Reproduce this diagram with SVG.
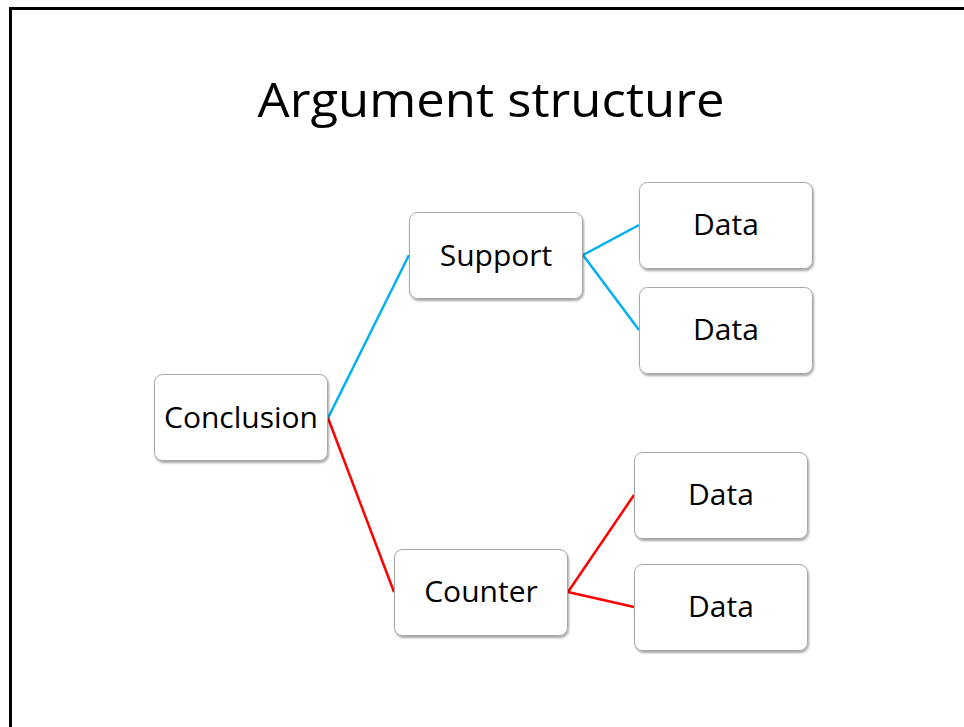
<svg xmlns="http://www.w3.org/2000/svg" width="964" height="727" viewBox="0 0 964 727">
<style>
.box{fill:#fff;stroke:#a6a6a6;stroke-width:1;filter:url(#sh)}
.lbl{font-family:"Open Sans","Liberation Sans",sans-serif;font-size:30px;fill:#000;text-anchor:middle}
.blue{stroke:#00b0f0;stroke-width:2.5;fill:none}
.red{stroke:#ff0000;stroke-width:2.5;fill:none}
</style>
<defs>
<filter id="sh" x="-10%" y="-10%" width="130%" height="140%">
<feDropShadow dx="1" dy="2" stdDeviation="1.2" flood-color="#000" flood-opacity="0.35"/>
</filter>
</defs>
<rect width="964" height="727" fill="#fff"/>
<path d="M10.5 727 V8.5 H964" fill="none" stroke="#000" stroke-width="3"/>
<text x="491" y="117" font-family="'Open Sans','Liberation Sans',sans-serif" font-size="47" text-anchor="middle" textLength="467" lengthAdjust="spacingAndGlyphs">Argument structure</text>
<g id="connectors">
<line class="blue" x1="328" y1="418" x2="409" y2="255"/>
<line class="blue" x1="583" y1="255" x2="639" y2="225"/>
<line class="blue" x1="583" y1="255" x2="639" y2="330"/>
<line class="red" x1="328" y1="418" x2="394" y2="592"/>
<line class="red" x1="568" y1="592" x2="634" y2="495"/>
<line class="red" x1="568" y1="592" x2="634" y2="607"/>
</g>
<g id="conclusion"><rect class="box" x="154.5" y="374.5" width="173" height="86" rx="8"/><text class="lbl" x="241" y="428">Conclusion</text></g>
<g id="support"><rect class="box" x="409.5" y="212.5" width="173" height="86" rx="8"/><text class="lbl" x="496" y="266">Support</text></g>
<g id="counter"><rect class="box" x="394.5" y="549.5" width="173" height="86" rx="8"/><text class="lbl" x="481" y="602">Counter</text></g>
<g id="data1"><rect class="box" x="639.5" y="182.5" width="173" height="86" rx="8"/><text class="lbl" x="726" y="235">Data</text></g>
<g id="data2"><rect class="box" x="639.5" y="287.5" width="173" height="86" rx="8"/><text class="lbl" x="726" y="340">Data</text></g>
<g id="data3"><rect class="box" x="634.5" y="452.5" width="173" height="86" rx="8"/><text class="lbl" x="721" y="505">Data</text></g>
<g id="data4"><rect class="box" x="634.5" y="564.5" width="173" height="86" rx="8"/><text class="lbl" x="721" y="617">Data</text></g>
</svg>
